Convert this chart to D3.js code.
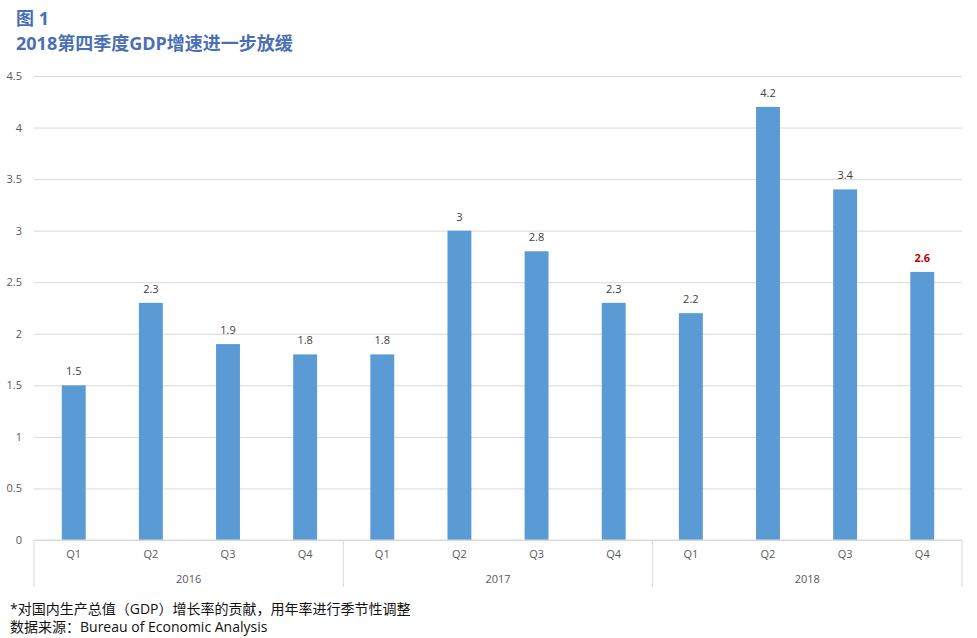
<!DOCTYPE html>
<html>
<head>
<meta charset="utf-8">
<script src="https://cdn.jsdelivr.net/npm/d3@7"></script>
<style>
  body { margin: 0; background: #fff; }
  text { font-family: "Open Sans", "Noto Sans CJK SC", sans-serif; }
</style>
</head>
<body>
<div id="vis"></div>
<script>
// chart data
let years    = ['2016', '2017', '2018'];
let quarters = ['Q1', 'Q2', 'Q3', 'Q4'];
let values   = [1.5, 2.3, 1.9, 1.8, 1.8, 3, 2.8, 2.3, 2.2, 4.2, 3.4, 2.6];
let yTicks   = [0, 0.5, 1, 1.5, 2, 2.5, 3, 3.5, 4, 4.5];

let rows = values.map((v, i) => ({
  key: i,
  year: years[Math.floor(i / 4)],
  q: quarters[i % 4],
  value: v
}));

let W = 977, H = 638;
let margin = { top: 76, left: 34, right: 15, bottom: 98 };
let width  = W - margin.left - margin.right,
    height = H - margin.top - margin.bottom;

let svg = d3.select('#vis')
  .append('svg')
    .attr('width', W)
    .attr('height', H);

// title
svg.append('text')
    .attr('x', 16).attr('y', 25)
    .attr('fill', '#4a6fb5')
    .style('font-size', '18px').style('font-weight', 'bold')
    .text('图 1');
svg.append('text')
    .attr('x', 16).attr('y', 50)
    .attr('fill', '#4a6fb5')
    .style('font-size', '18px').style('font-weight', 'bold')
    .text('2018第四季度GDP增速进一步放缓');

let g = svg.append('g')
    .attr('transform', `translate(${margin.left},${margin.top})`);

let x = d3.scaleBand()
    .domain(rows.map(d => d.key))
    .range([0, width])
    .paddingInner(0.69)
    .paddingOuter(0.36);

let y = d3.scaleLinear()
    .domain([0, 4.5])
    .range([height, 0]);

// gridlines + y labels
let yAxis = g.append('g')
    .call(d3.axisLeft(y).tickValues(yTicks).tickSize(-width).tickFormat(d3.format('~g')).tickPadding(12));
yAxis.select('.domain').remove();
yAxis.selectAll('.tick line').attr('stroke', '#d9d9d9');
yAxis.selectAll('.tick text').attr('fill', '#595959').style('font-size', '11px');

// bars
g.selectAll('rect.bar')
  .data(rows)
  .join('rect')
    .attr('class', 'bar')
    .attr('x', d => x(d.key))
    .attr('y', d => y(d.value))
    .attr('width', x.bandwidth())
    .attr('height', d => height - y(d.value))
    .attr('fill', '#5b9bd5');

// value labels
g.selectAll('text.val')
  .data(rows)
  .join('text')
    .attr('class', 'val')
    .attr('x', d => x(d.key) + x.bandwidth() / 2)
    .attr('y', d => y(d.value) - 10)
    .attr('text-anchor', 'middle')
    .attr('fill', (d, i) => i === rows.length - 1 ? '#c00000' : '#404040')
    .style('font-size', '11px')
    .style('font-weight', (d, i) => i === rows.length - 1 ? 'bold' : 'normal')
    .text(d => d.value);

// category axis
g.append('line')
    .attr('x1', 0).attr('x2', width)
    .attr('y1', height).attr('y2', height)
    .attr('stroke', '#d9d9d9');

let groupW = width / years.length;

g.selectAll('line.sep')
  .data(d3.range(years.length + 1))
  .join('line')
    .attr('class', 'sep')
    .attr('x1', i => i * groupW).attr('x2', i => i * groupW)
    .attr('y1', height).attr('y2', height + 47)
    .attr('stroke', '#d9d9d9');

g.selectAll('text.q')
  .data(rows)
  .join('text')
    .attr('class', 'q')
    .attr('x', d => x(d.key) + x.bandwidth() / 2)
    .attr('y', height + 18)
    .attr('text-anchor', 'middle')
    .attr('fill', '#595959')
    .style('font-size', '11px')
    .text(d => d.q);

g.selectAll('text.yr')
  .data(years)
  .join('text')
    .attr('class', 'yr')
    .attr('x', (d, i) => (i + 0.5) * groupW)
    .attr('y', height + 43)
    .attr('text-anchor', 'middle')
    .attr('fill', '#595959')
    .style('font-size', '11px')
    .text(d => d);

// footnote
svg.append('text')
    .attr('x', 10).attr('y', 614)
    .attr('fill', '#111')
    .style('font-size', '14px')
    .text('*对国内生产总值（GDP）增长率的贡献，用年率进行季节性调整');
svg.append('text')
    .attr('x', 10).attr('y', 632)
    .attr('fill', '#111')
    .style('font-size', '14px')
    .text('数据来源：Bureau of Economic Analysis');
</script>
</body>
</html>
